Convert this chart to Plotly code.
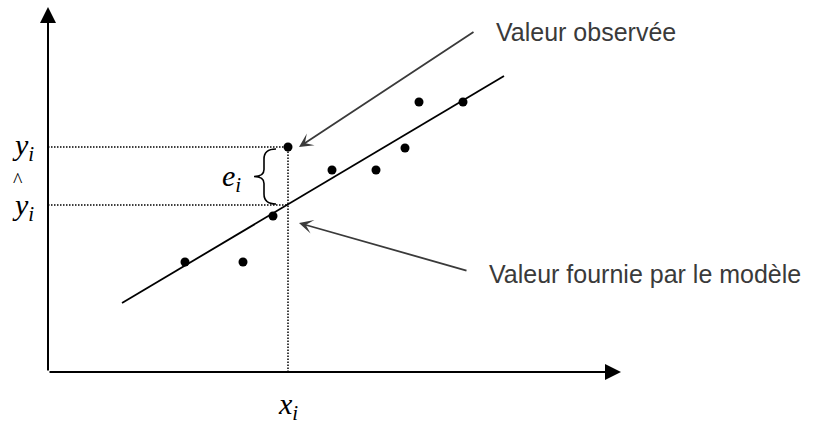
import plotly.graph_objects as go

# Observations (chart units: origin at the corner of the two axes)
obs_x = [137, 195, 225, 240, 284, 328, 357, 371, 415]
obs_y = [110, 110, 156, 225, 202, 202, 224, 270, 270]

# Fitted line, read at its two ends
line_x = [74, 456]
line_y = [69, 296]

# The highlighted observation and its fitted value
x_i = 240
y_i = 225
y_hat_i = 167

# Axis extents (where the arrow tips sit)
x_axis_end = 573
y_axis_end = 365

obs_label = "Valeur observée"
model_label = "Valeur fournie par le modèle"

INK = "#000000"
GREY = "#3a3a3a"
SERIF = "Liberation Serif"
SANS = "Liberation Sans"

fig = go.Figure()

# dotted guides
dot = dict(color=INK, width=1.5, dash="1.5px,1.5px")
fig.add_trace(go.Scatter(x=[0, x_i], y=[y_i, y_i], mode="lines", line=dot, hoverinfo="skip"))
fig.add_trace(go.Scatter(x=[0, x_i], y=[y_hat_i, y_hat_i], mode="lines", line=dot, hoverinfo="skip"))
fig.add_trace(go.Scatter(x=[x_i, x_i], y=[0, y_i], mode="lines", line=dot, hoverinfo="skip"))

fig.add_trace(go.Scatter(x=line_x, y=line_y, mode="lines",
                         line=dict(color=INK, width=1.8), hoverinfo="skip"))
fig.add_trace(go.Scatter(x=obs_x, y=obs_y, mode="markers",
                         marker=dict(color=INK, size=9), hoverinfo="skip"))

# curly brace between y_i and y_hat_i, built from those two values
top, bot = y_i - 2, y_hat_i + 1
mid = (top + bot) / 2
arm, stem, tip = x_i - 12, x_i - 24, x_i - 34
brace = (
    f"M{arm},{top} Q{stem},{top} {stem},{top - 10} "
    f"L{stem},{mid + 7} Q{stem},{mid} {tip},{mid} "
    f"Q{stem},{mid} {stem},{mid - 7} "
    f"L{stem},{bot + 10} Q{stem},{bot} {arm},{bot}"
)
shapes = [dict(type="path", path=brace, xref="x", yref="y",
               line=dict(color=INK, width=1.6))]

annotations = [
    # axes with arrow heads
    dict(x=0, y=y_axis_end, ax=0, ay=0, axref="x", ayref="y", text="",
         showarrow=True, arrowhead=2, arrowsize=1.6, arrowwidth=2, arrowcolor=INK, standoff=0),
    dict(x=x_axis_end, y=0, ax=0, ay=0, axref="x", ayref="y", text="",
         showarrow=True, arrowhead=2, arrowsize=1.6, arrowwidth=2, arrowcolor=INK, standoff=0),
    # pointers
    dict(x=x_i + 11, y=y_i, ax=427, ay=341, axref="x", ayref="y", text="",
         showarrow=True, arrowhead=3, arrowsize=1.3, arrowwidth=1.8, arrowcolor=GREY, standoff=0),
    dict(x=x_i + 11, y=y_hat_i - 18, ax=420, ay=101, axref="x", ayref="y", text="",
         showarrow=True, arrowhead=3, arrowsize=1.3, arrowwidth=1.8, arrowcolor=GREY, standoff=0),
    dict(x=446, y=340, text=obs_label, showarrow=False, xanchor="left", yanchor="middle",
         font=dict(family=SANS, size=25, color=GREY)),
    dict(x=439, y=98, text=model_label, showarrow=False, xanchor="left", yanchor="middle",
         font=dict(family=SANS, size=25, color=GREY)),
    # math labels
    dict(x=-25, y=y_i, text="<i>y<sub>i</sub></i>", showarrow=False,
         font=dict(family=SERIF, size=30, color=INK)),
    dict(x=-25, y=y_hat_i - 2, text="<i>y<sub>i</sub></i>", showarrow=False,
         font=dict(family=SERIF, size=30, color=INK)),
    dict(x=-30, y=y_hat_i + 25, text="^", showarrow=False,
         font=dict(family=SERIF, size=20, color=INK)),
    dict(x=x_i - 57, y=(y_i + y_hat_i) / 2 - 2, text="<i>e<sub>i</sub></i>", showarrow=False,
         font=dict(family=SERIF, size=30, color=INK)),
    dict(x=x_i, y=-34, text="<i>x<sub>i</sub></i>", showarrow=False,
         font=dict(family=SERIF, size=30, color=INK)),
]

fig.update_layout(
    width=830, height=423,
    margin=dict(l=0, r=0, t=0, b=0),
    paper_bgcolor="white", plot_bgcolor="white",
    showlegend=False,
    xaxis=dict(range=[-48, 782], visible=False, fixedrange=True),
    yaxis=dict(range=[-51, 372], visible=False, fixedrange=True),
    shapes=shapes,
    annotations=annotations,
)

# drop the page's default body margin so the figure fills the window
fig.write_html(
    "out.html",
    config={"displayModeBar": False},
    post_script="document.body.style.margin='0';document.body.style.overflow='hidden';",
)
